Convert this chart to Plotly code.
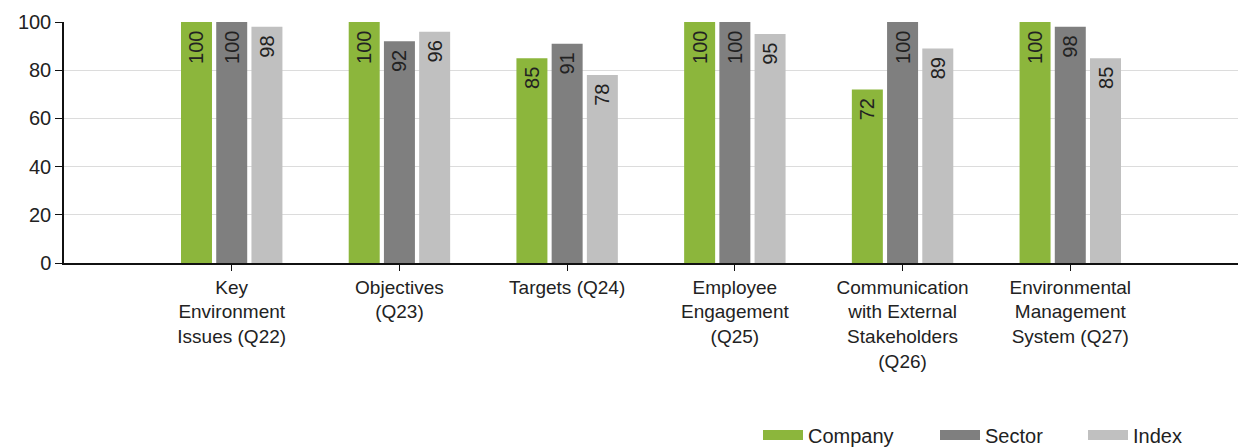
import plotly.graph_objects as go

# Environmental management scores by question
categories = [
    "Key<br>Environment<br>Issues (Q22)",
    "Objectives<br>(Q23)",
    "Targets (Q24)",
    "Employee<br>Engagement<br>(Q25)",
    "Communication<br>with External<br>Stakeholders<br>(Q26)",
    "Environmental<br>Management<br>System (Q27)",
]
company = [100, 100, 85, 100, 72, 100]
sector = [100, 92, 91, 100, 100, 98]
index_scores = [98, 96, 78, 95, 89, 85]
y_ticks = [0, 20, 40, 60, 80, 100]

series = [
    ("Company", company, "#8cb63c"),
    ("Sector", sector, "#7f7f7f"),
    ("Index", index_scores, "#c0c0c0"),
]

FONT = "Liberation Sans, Arial, sans-serif"
TEXT_COLOR = "#222222"

fig = go.Figure()
legend_names = ["legend", "legend2", "legend3"]
for (name, vals, color), lg in zip(series, legend_names):
    fig.add_trace(go.Bar(
        name=name,
        x=categories,
        y=vals,
        marker=dict(color=color, line=dict(width=0)),
        # trailing no-break space keeps the value a little below the bar top
        texttemplate="%{y}\u00a0",
        textposition="inside",
        insidetextanchor="end",
        textangle=-90,
        textfont=dict(family=FONT, size=20, color=TEXT_COLOR),
        showlegend=False,
        hoverinfo="skip",
    ))
    # wide legend swatch drawn as a thick line entry
    fig.add_trace(go.Scatter(
        name=name,
        x=[None], y=[None],
        mode="lines",
        line=dict(color=color, width=10),
        legend=lg,
        showlegend=True,
    ))

plot_left, plot_right, plot_top, plot_bottom = 64, 1238, 22, 263
plot_w = plot_right - plot_left
plot_h = plot_bottom - plot_top


def px_to_paper_x(px):
    return (px - plot_left) / plot_w


legend_y = (plot_bottom - 435) / plot_h
legend_common = dict(
    orientation="h",
    yanchor="middle",
    xanchor="left",
    y=legend_y,
    itemwidth=40,
    font=dict(family=FONT, size=20, color=TEXT_COLOR),
    bgcolor="rgba(0,0,0,0)",
)

fig.update_layout(
    width=1245,
    height=448,
    margin=dict(l=plot_left, r=1245 - plot_right, t=plot_top, b=448 - plot_bottom,
                autoexpand=False),
    paper_bgcolor="white",
    plot_bgcolor="white",
    barmode="group",
    bargap=0.37,
    bargroupgap=0.12,
    uniformtext=dict(mode="show", minsize=10),
    font=dict(family=FONT, size=20, color=TEXT_COLOR),
    legend=dict(x=px_to_paper_x(758), **legend_common),
    legend2=dict(x=px_to_paper_x(935), **legend_common),
    legend3=dict(x=px_to_paper_x(1083), **legend_common),
    xaxis=dict(
        type="category",
        range=[-1, len(categories)],
        showline=True,
        linecolor="#111111",
        linewidth=1.5,
        ticks="outside",
        ticklen=6,
        tickcolor="#111111",
        showgrid=False,
        tickfont=dict(family=FONT, size=19, color=TEXT_COLOR),
        fixedrange=True,
    ),
    yaxis=dict(
        range=[0, 100],
        tickvals=y_ticks,
        showline=True,
        linecolor="#111111",
        linewidth=1.5,
        ticks="outside",
        ticklen=7,
        tickcolor="#111111",
        showgrid=True,
        gridcolor="#dcdcdc",
        gridwidth=1,
        zeroline=False,
        tickfont=dict(family=FONT, size=20, color=TEXT_COLOR),
        fixedrange=True,
    ),
)

fig.write_html("out.html")
